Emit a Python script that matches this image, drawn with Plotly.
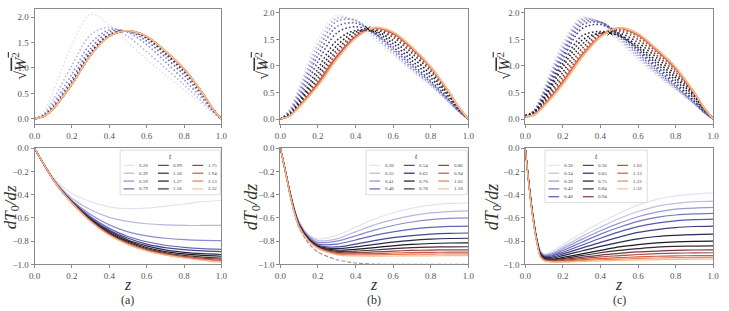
import plotly.graph_objects as go

W, H = 729, 311

# ---------------- data ----------------
z_top = [0, 0.05, 0.1, 0.2, 0.3, 0.4, 0.5, 0.6, 0.7, 0.8, 0.9, 0.95, 1.0]

t_a = [0.20, 0.39, 0.59, 0.79, 0.99, 1.18, 1.37, 1.56, 1.75, 1.94, 2.13, 2.32]
w_a = [
    [0, 0.15, 0.55, 1.45, 2.05, 1.85, 1.50, 1.17, 0.87, 0.57, 0.28, 0.12, 0],
    [0, 0.10, 0.38, 1.05, 1.65, 1.80, 1.62, 1.32, 1.00, 0.67, 0.33, 0.15, 0],
    [0, 0.08, 0.30, 0.88, 1.48, 1.75, 1.70, 1.46, 1.12, 0.77, 0.39, 0.17, 0],
    [0, 0.07, 0.25, 0.78, 1.38, 1.71, 1.72, 1.53, 1.21, 0.86, 0.44, 0.19, 0],
    [0, 0.06, 0.22, 0.72, 1.31, 1.66, 1.73, 1.58, 1.27, 0.92, 0.47, 0.20, 0],
    [0, 0.055, 0.21, 0.70, 1.28, 1.64, 1.73, 1.60, 1.30, 0.95, 0.49, 0.21, 0],
    [0, 0.052, 0.205, 0.69, 1.26, 1.63, 1.73, 1.61, 1.32, 0.97, 0.50, 0.22, 0],
    [0, 0.05, 0.20, 0.685, 1.255, 1.625, 1.73, 1.615, 1.325, 0.975, 0.50, 0.22, 0],
    [0, 0.05, 0.20, 0.68, 1.25, 1.62, 1.73, 1.62, 1.33, 0.98, 0.50, 0.22, 0],
    [0, 0.05, 0.20, 0.68, 1.25, 1.62, 1.73, 1.62, 1.33, 0.98, 0.50, 0.22, 0],
    [0, 0.05, 0.20, 0.68, 1.25, 1.62, 1.73, 1.62, 1.33, 0.98, 0.50, 0.22, 0],
    [0, 0.05, 0.20, 0.68, 1.25, 1.62, 1.73, 1.62, 1.33, 0.98, 0.50, 0.22, 0],
]

t_b = [0.30, 0.35, 0.41, 0.46, 0.54, 0.62, 0.70, 0.78, 0.86, 0.94, 1.02, 1.10]
w_b = [
    [0, 0.20, 0.62, 1.50, 1.95, 1.82, 1.50, 1.20, 0.90, 0.62, 0.30, 0.13, 0],
    [0, 0.17, 0.55, 1.40, 1.90, 1.86, 1.56, 1.24, 0.93, 0.64, 0.31, 0.14, 0],
    [0, 0.15, 0.50, 1.30, 1.84, 1.86, 1.60, 1.28, 0.96, 0.66, 0.32, 0.14, 0],
    [0, 0.13, 0.44, 1.20, 1.74, 1.81, 1.62, 1.32, 1.00, 0.69, 0.34, 0.15, 0],
    [0, 0.11, 0.38, 1.08, 1.62, 1.74, 1.62, 1.36, 1.04, 0.72, 0.36, 0.16, 0],
    [0, 0.09, 0.33, 0.95, 1.48, 1.67, 1.64, 1.42, 1.10, 0.78, 0.40, 0.18, 0],
    [0, 0.08, 0.30, 0.86, 1.38, 1.64, 1.66, 1.48, 1.17, 0.84, 0.43, 0.19, 0],
    [0, 0.07, 0.27, 0.78, 1.30, 1.60, 1.68, 1.54, 1.24, 0.90, 0.46, 0.20, 0],
    [0, 0.065, 0.25, 0.72, 1.24, 1.57, 1.70, 1.58, 1.29, 0.94, 0.48, 0.21, 0],
    [0, 0.06, 0.24, 0.68, 1.18, 1.55, 1.71, 1.61, 1.33, 0.97, 0.49, 0.22, 0],
    [0, 0.058, 0.23, 0.64, 1.14, 1.53, 1.72, 1.63, 1.35, 0.98, 0.50, 0.22, 0],
    [0, 0.055, 0.22, 0.62, 1.12, 1.52, 1.72, 1.64, 1.36, 0.99, 0.50, 0.22, 0],
]

t_c = [0.30, 0.34, 0.39, 0.43, 0.48, 0.56, 0.65, 0.75, 0.84, 0.94, 1.03, 1.13, 1.22, 1.32]
w_c = [
    [0.04, 0.20, 0.60, 1.45, 1.92, 1.80, 1.45, 1.12, 0.82, 0.55, 0.27, 0.12, 0],
    [0.04, 0.18, 0.56, 1.38, 1.89, 1.82, 1.50, 1.16, 0.85, 0.57, 0.28, 0.12, 0],
    [0.04, 0.17, 0.52, 1.32, 1.86, 1.83, 1.54, 1.20, 0.88, 0.59, 0.29, 0.13, 0],
    [0.04, 0.16, 0.49, 1.26, 1.82, 1.83, 1.57, 1.24, 0.91, 0.61, 0.30, 0.13, 0],
    [0.04, 0.15, 0.46, 1.20, 1.77, 1.82, 1.60, 1.28, 0.95, 0.64, 0.32, 0.14, 0],
    [0.05, 0.14, 0.43, 1.13, 1.70, 1.78, 1.60, 1.31, 0.99, 0.68, 0.34, 0.15, 0],
    [0.07, 0.14, 0.40, 1.05, 1.56, 1.65, 1.56, 1.34, 1.04, 0.73, 0.38, 0.17, 0.02],
    [0.07, 0.13, 0.37, 0.98, 1.48, 1.62, 1.58, 1.38, 1.09, 0.78, 0.42, 0.19, 0.02],
    [0.06, 0.11, 0.33, 0.88, 1.40, 1.62, 1.62, 1.44, 1.15, 0.83, 0.45, 0.20, 0.01],
    [0.05, 0.10, 0.30, 0.80, 1.32, 1.60, 1.66, 1.50, 1.20, 0.88, 0.47, 0.21, 0],
    [0.04, 0.09, 0.28, 0.74, 1.25, 1.58, 1.69, 1.55, 1.25, 0.92, 0.48, 0.22, 0],
    [0.04, 0.085, 0.26, 0.70, 1.20, 1.56, 1.71, 1.58, 1.29, 0.95, 0.49, 0.22, 0],
    [0.04, 0.08, 0.25, 0.67, 1.17, 1.55, 1.72, 1.60, 1.31, 0.97, 0.50, 0.22, 0],
    [0.04, 0.08, 0.24, 0.65, 1.15, 1.54, 1.72, 1.61, 1.32, 0.98, 0.50, 0.22, 0],
]

peak_b_z = [0.465]
peak_b_w = [1.70]
peak_c_z = [0.45]
peak_c_w = [1.62]

z_bot_a = [0, 0.05, 0.1, 0.15, 0.2, 0.3, 0.4, 0.5, 0.6, 0.7, 0.8, 0.9, 1.0]
g_a = [
    [0, -0.13, -0.25, -0.33, -0.39, -0.46, -0.505, -0.52, -0.515, -0.50, -0.48, -0.46, -0.45],
    [0, -0.135, -0.26, -0.355, -0.43, -0.53, -0.595, -0.63, -0.65, -0.66, -0.665, -0.665, -0.665],
    [0, -0.138, -0.265, -0.365, -0.45, -0.57, -0.66, -0.72, -0.755, -0.775, -0.787, -0.793, -0.795],
    [0, -0.14, -0.267, -0.37, -0.455, -0.59, -0.69, -0.76, -0.805, -0.835, -0.853, -0.864, -0.87],
    [0, -0.14, -0.268, -0.372, -0.458, -0.60, -0.705, -0.775, -0.825, -0.855, -0.873, -0.884, -0.89],
    [0, -0.14, -0.269, -0.375, -0.462, -0.608, -0.715, -0.79, -0.84, -0.875, -0.896, -0.908, -0.915],
    [0, -0.14, -0.27, -0.377, -0.465, -0.615, -0.725, -0.80, -0.855, -0.89, -0.91, -0.923, -0.93],
    [0, -0.14, -0.27, -0.378, -0.467, -0.62, -0.733, -0.81, -0.865, -0.90, -0.923, -0.937, -0.945],
    [0, -0.14, -0.27, -0.379, -0.468, -0.624, -0.74, -0.818, -0.872, -0.908, -0.932, -0.946, -0.955],
    [0, -0.14, -0.27, -0.38, -0.469, -0.627, -0.745, -0.824, -0.878, -0.914, -0.938, -0.954, -0.965],
    [0, -0.14, -0.27, -0.38, -0.47, -0.629, -0.748, -0.828, -0.882, -0.918, -0.942, -0.96, -0.973],
    [0, -0.14, -0.27, -0.38, -0.47, -0.63, -0.75, -0.83, -0.885, -0.92, -0.945, -0.965, -0.98],
]

z_bot_b = [0, 0.025, 0.05, 0.075, 0.1, 0.15, 0.2, 0.3, 0.4, 0.5, 0.6, 0.7, 0.8, 0.9, 1.0]
g_b = [
    [0, -0.18, -0.36, -0.52, -0.63, -0.74, -0.78, -0.75, -0.68, -0.61, -0.555, -0.515, -0.49, -0.475, -0.47],
    [0, -0.18, -0.365, -0.525, -0.64, -0.75, -0.795, -0.78, -0.72, -0.66, -0.615, -0.58, -0.557, -0.545, -0.54],
    [0, -0.18, -0.37, -0.53, -0.645, -0.76, -0.81, -0.80, -0.755, -0.705, -0.665, -0.635, -0.615, -0.604, -0.60],
    [0, -0.185, -0.372, -0.535, -0.65, -0.77, -0.825, -0.825, -0.79, -0.75, -0.72, -0.697, -0.682, -0.673, -0.67],
    [0, -0.185, -0.375, -0.54, -0.655, -0.775, -0.835, -0.85, -0.825, -0.795, -0.77, -0.752, -0.74, -0.733, -0.73],
    [0, -0.185, -0.377, -0.543, -0.66, -0.78, -0.842, -0.865, -0.85, -0.828, -0.808, -0.793, -0.783, -0.777, -0.775],
    [0, -0.187, -0.38, -0.546, -0.665, -0.785, -0.847, -0.878, -0.87, -0.855, -0.84, -0.828, -0.82, -0.816, -0.815],
    [0, -0.187, -0.382, -0.549, -0.668, -0.79, -0.851, -0.888, -0.886, -0.876, -0.865, -0.856, -0.851, -0.849, -0.848],
    [0, -0.188, -0.384, -0.552, -0.672, -0.793, -0.855, -0.897, -0.899, -0.893, -0.886, -0.88, -0.877, -0.875, -0.875],
    [0, -0.19, -0.386, -0.555, -0.675, -0.796, -0.858, -0.905, -0.91, -0.907, -0.902, -0.898, -0.896, -0.895, -0.895],
    [0, -0.19, -0.388, -0.558, -0.678, -0.798, -0.861, -0.912, -0.919, -0.918, -0.915, -0.912, -0.911, -0.91, -0.91],
    [0, -0.19, -0.39, -0.56, -0.68, -0.80, -0.864, -0.918, -0.928, -0.929, -0.928, -0.927, -0.926, -0.925, -0.925],
]
g_b_ref = [0, -0.2, -0.4, -0.57, -0.69, -0.82, -0.895, -0.96, -0.988, -0.998, -1.0, -1.0, -1.0, -1.0, -1.0]

z_bot_c = [0, 0.02, 0.04, 0.06, 0.08, 0.1, 0.15, 0.2, 0.3, 0.4, 0.5, 0.6, 0.7, 0.8, 0.9, 1.0]
g_c = [
    [0, -0.30, -0.56, -0.76, -0.88, -0.91, -0.88, -0.83, -0.73, -0.64, -0.56, -0.49, -0.44, -0.41, -0.395, -0.385],
    [0, -0.30, -0.565, -0.765, -0.885, -0.915, -0.895, -0.85, -0.76, -0.68, -0.605, -0.545, -0.50, -0.475, -0.46, -0.455],
    [0, -0.31, -0.57, -0.77, -0.89, -0.92, -0.905, -0.865, -0.785, -0.71, -0.645, -0.59, -0.55, -0.525, -0.515, -0.51],
    [0, -0.31, -0.575, -0.775, -0.895, -0.925, -0.915, -0.88, -0.81, -0.74, -0.68, -0.63, -0.595, -0.575, -0.565, -0.56],
    [0, -0.315, -0.58, -0.78, -0.90, -0.93, -0.925, -0.895, -0.835, -0.775, -0.72, -0.675, -0.645, -0.625, -0.615, -0.61],
    [0, -0.315, -0.58, -0.78, -0.905, -0.935, -0.935, -0.91, -0.86, -0.81, -0.765, -0.725, -0.70, -0.683, -0.674, -0.67],
    [0, -0.32, -0.585, -0.785, -0.91, -0.94, -0.945, -0.925, -0.885, -0.845, -0.81, -0.78, -0.76, -0.75, -0.743, -0.74],
    [0, -0.32, -0.585, -0.785, -0.915, -0.945, -0.955, -0.94, -0.91, -0.88, -0.85, -0.83, -0.815, -0.806, -0.802, -0.80],
    [0, -0.32, -0.59, -0.79, -0.92, -0.95, -0.96, -0.95, -0.925, -0.90, -0.88, -0.865, -0.852, -0.845, -0.842, -0.84],
    [0, -0.325, -0.59, -0.79, -0.925, -0.955, -0.965, -0.958, -0.94, -0.92, -0.905, -0.893, -0.885, -0.879, -0.876, -0.875],
    [0, -0.325, -0.595, -0.795, -0.93, -0.96, -0.97, -0.965, -0.95, -0.935, -0.925, -0.915, -0.908, -0.903, -0.901, -0.90],
    [0, -0.33, -0.595, -0.795, -0.93, -0.963, -0.975, -0.972, -0.96, -0.95, -0.942, -0.935, -0.93, -0.927, -0.925, -0.925],
    [0, -0.33, -0.60, -0.80, -0.935, -0.966, -0.978, -0.977, -0.968, -0.96, -0.954, -0.949, -0.945, -0.942, -0.941, -0.94],
    [0, -0.33, -0.60, -0.80, -0.935, -0.968, -0.98, -0.98, -0.975, -0.97, -0.966, -0.962, -0.959, -0.957, -0.956, -0.955],
]

# ---------------- style ----------------
ANCHORS = [(0.0, "#e4e4ee"), (0.1, "#b4b4dc"), (0.2, "#8484c8"), (0.3, "#5a5ab2"),
           (0.4, "#3a3a78"), (0.5, "#1e1e2c"), (0.56, "#1a1a1a"), (0.63, "#4b2c34"),
           (0.71, "#803e46"), (0.79, "#bb524c"), (0.86, "#da5e3c"), (0.93, "#ee8c58"),
           (1.0, "#f5bd8e")]


def _rgb(h):
    h = h.lstrip("#")
    return [int(h[i:i + 2], 16) for i in (0, 2, 4)]


def cmap(f):
    for (f0, c0), (f1, c1) in zip(ANCHORS[:-1], ANCHORS[1:]):
        if f <= f1:
            u = 0 if f1 == f0 else (f - f0) / (f1 - f0)
            a, b = _rgb(c0), _rgb(c1)
            return "rgb(%d,%d,%d)" % tuple(round(a[i] + u * (b[i] - a[i])) for i in range(3))
    return ANCHORS[-1][1]


def colors(n):
    return [cmap(i / (n - 1)) for i in range(n)]


SERIF = "Liberation Serif"
AXC = "#8a8a8a"
TXC = "#555555"

cols_px = [(29, 219), (279, 470), (528, 719)]
top_px = (4, 123)
bot_px = (148, 268)
top_ranges = [[-0.1, 2.16], [-0.095, 2.075], [-0.095, 2.075]]


def dom_x(a, b):
    return [a / W, b / W]


def dom_y(t, b):
    return [1 - b / H, 1 - t / H]


fig = go.Figure()

panels = [
    (t_a, w_a, z_bot_a, g_a),
    (t_b, w_b, z_bot_b, g_b),
    (t_c, w_c, z_bot_c, g_c),
]

for k, (tt, ww, zb, gg) in enumerate(panels):
    n = len(tt)
    cl = colors(n)
    xt, yt = "x%d" % (k + 1), "y%d" % (k + 1)
    xb, yb = "x%d" % (k + 4), "y%d" % (k + 4)
    for i in range(n):
        fig.add_trace(go.Scatter(
            x=z_top, y=ww[i], mode="lines", xaxis=xt, yaxis=yt,
            line=dict(color=cl[i], width=1.6, shape="spline", smoothing=0.9,
                      dash="1.6px,2.2px" if i < n - 3 else "solid"),
            name="%.2f" % tt[i], showlegend=False, hoverinfo="skip"))
    if k == 1:
        fig.add_trace(go.Scatter(x=zb, y=g_b_ref, mode="lines", xaxis=xb, yaxis=yb,
                                 line=dict(color="#9a9a9a", width=1.2, dash="4px,2px",
                                           shape="spline", smoothing=0.6),
                                 showlegend=False, hoverinfo="skip"))
    for i in range(n):
        fig.add_trace(go.Scatter(
            x=zb, y=gg[i], mode="lines", xaxis=xb, yaxis=yb,
            line=dict(color=cl[i], width=1.2, shape="spline", smoothing=0.8),
            name="%.2f" % tt[i], showlegend=False, hoverinfo="skip"))

for (pz, pw, ax) in [(peak_b_z, peak_b_w, 2), (peak_c_z, peak_c_w, 3)]:
    fig.add_trace(go.Scatter(x=pz, y=pw, mode="markers", xaxis="x%d" % ax, yaxis="y%d" % ax,
                             marker=dict(symbol="x-thin", size=5, color="#111",
                                         line=dict(width=1, color="#111")),
                             showlegend=False, hoverinfo="skip"))

axis_common = dict(showline=True, linecolor=AXC, linewidth=1, mirror=True,
                   ticks="outside", ticklen=3, tickwidth=0.8, tickcolor=AXC,
                   showgrid=False, zeroline=False,
                   tickfont=dict(family=SERIF, size=9, color=TXC))

layout = dict(width=W, height=H, margin=dict(l=0, r=0, t=0, b=0),
              paper_bgcolor="white", plot_bgcolor="white", showlegend=False)

for k in range(3):
    x0, x1 = cols_px[k]
    layout["xaxis%d" % (k + 1)] = dict(axis_common, domain=dom_x(x0, x1), range=[0, 1],
                                       anchor="y%d" % (k + 1), tickvals=[0, 0.2, 0.4, 0.6, 0.8, 1.0],
                                       tickformat=".1f")
    layout["yaxis%d" % (k + 1)] = dict(axis_common, domain=dom_y(*top_px), range=top_ranges[k],
                                       anchor="x%d" % (k + 1), tickvals=[0, 0.5, 1.0, 1.5, 2.0],
                                       tickformat=".1f")
    layout["xaxis%d" % (k + 4)] = dict(axis_common, domain=dom_x(x0, x1), range=[0, 1],
                                       anchor="y%d" % (k + 4), tickvals=[0, 0.2, 0.4, 0.6, 0.8, 1.0],
                                       tickformat=".1f")
    layout["yaxis%d" % (k + 4)] = dict(axis_common, domain=dom_y(*bot_px), range=[-1, 0],
                                       anchor="x%d" % (k + 4),
                                       tickvals=[-1.0, -0.8, -0.6, -0.4, -0.2, 0.0],
                                       tickformat=".1f")

annotations = []
shapes = []


def ann(xp, yp, text, size, angle=0, xanchor="center", color="#333"):
    annotations.append(dict(x=xp / W, y=1 - yp / H, xref="paper", yref="paper",
                            text=text, showarrow=False, textangle=angle,
                            xanchor=xanchor, yanchor="middle",
                            font=dict(family=SERIF, size=size, color=color)))


sqrt_label = "\u221a<span style='text-decoration:overline'><i>W</i><sup>2</sup></span>"
dT_label = "<i>dT</i><sub>0</sub><i>/dz</i>"
for k, (xtp, xbp) in enumerate([(13, 6), (260, 250), (506, 495)]):
    ann(xtp, 63, sqrt_label, 16, angle=-90)
    ann(xbp, 209, dT_label, 17 if k == 0 else 18, angle=-90)
    cx = sum(cols_px[k]) / 2
    ann(cx, 289, "<i>z</i>", 16)
    ann(cx, 305, "(%s)" % "abc"[k], 12)

# custom legends (three columns, matplotlib-like)
legends = [
    (t_a, 116, 150, 218, 196, 4),
    (t_b, 366, 150, 469, 196, 4),
    (t_c, 548, 150, 652, 204, 5),
]
for tt, bx0, by0, bx1, by1, nrows in legends:
    n = len(tt)
    cl = colors(n)
    shapes.append(dict(type="rect", xref="paper", yref="paper",
                       x0=bx0 / W, x1=bx1 / W, y0=1 - by1 / H, y1=1 - by0 / H,
                       line=dict(color="#d4d4d4", width=0.8),
                       fillcolor="rgba(255,255,255,0.85)", layer="above"))
    ann((bx0 + bx1) / 2, 156.5, "<i>t</i>", 8, color="#444")
    for i in range(n):
        c, r = divmod(i, nrows)
        yp = 165.7 + r * 8.1
        lx0 = bx0 + 3.5 + c * 35
        shapes.append(dict(type="line", xref="paper", yref="paper",
                           x0=lx0 / W, x1=(lx0 + 11) / W, y0=1 - yp / H, y1=1 - yp / H,
                           line=dict(color=cl[i], width=1.2), layer="above"))
        ann(lx0 + 13.5, yp, "%.2f" % tt[i], 5, xanchor="left", color="#444")

layout["annotations"] = annotations
layout["shapes"] = shapes
fig.update_layout(**layout)
fig.write_html("out.html")
